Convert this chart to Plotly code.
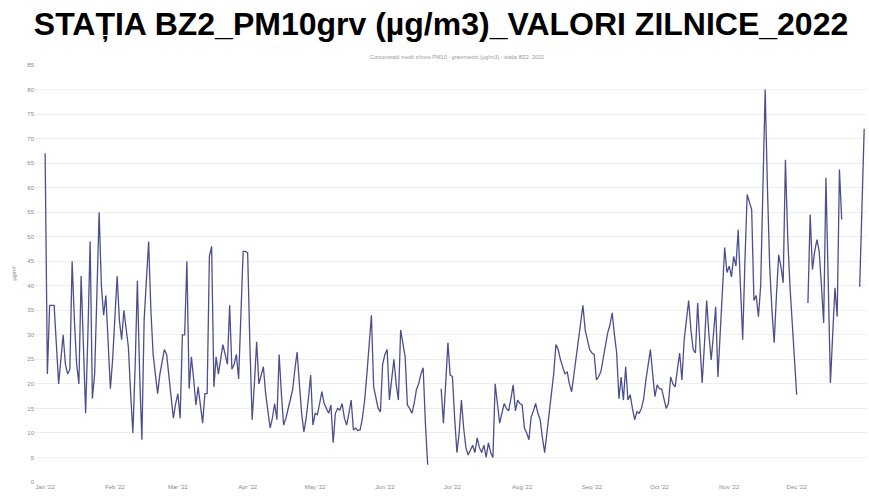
import pandas as pd
import plotly.graph_objects as go

N = None
# Daily PM10 gravimetric values (µg/m3), 1 Jan 2022 .. 31 Dec 2022
jan = [67, 22, 36, 36, 36, 28, 20, 25, 30, 24, 22, 23, 45, 33, 24, 20, 42, 28, 14, 30,
       49, 17, 22, 38, 55, 40, 34, 38, 27, 19, 25]
feb = [35, 42, 33, 29, 35, 31, 27.5, 18, 10, 23.5, 41, 22, 8.6, 33, 42, 49, 35, 26, 22, 18,
       22, 25, 27, 26, 22, 18, 13, 16]
mar = [18, 13, 30, 30, 45, 19, 25.5, 21, 15.7, 19.4, 16, 12, 18, 18, 46, 48, 19.4, 25.5, 22, 25,
       28, 26, 24, 36, 23, 24, 26, 21, 33, 47, 47]
apr = [46.7, 28, 12.7, 20, 28.6, 20, 22, 23.5, 18, 14, 11, 13, 16, 12.7, 26, 18, 11.6, 13, 15, 17,
       18.8, 23, 26.5, 20, 14, 10.2, 13, 17, 21.8, 11.6]
may = [14, 13.7, 16, 18.4, 16, 15, 14, 15.7, 8, 14, 15, 14.7, 16, 13, 11.6, 14, 16.7, 10.6, 11, 10.5,
       10.6, 13, 16.7, 22, 29, 34, 19.4, 17, 15, 14.3, 24]
jun = [26, 27, 16.7, 21, 25, 20, 16.7, 31, 28, 25.5, 15.7, 15, 14, 16, 18.8, 20, 22, 23.3, 12, 3.5,
       N, N, N, N, N, 19, 12, 20, 28.4, 21.8]
jul = [21.5, 13, 6, 10, 16.7, 11, 7, 5.5, 6.5, 7.5, 6, 9, 7, 6, 7.5, 5, 8, 6, 5, 20,
       16, 12, 14, 16, 15, 14.5, 17, 19.8, 14.5, 16.7, 16]
aug = [15.7, 11, 10, 8.6, 13.3, 14.5, 16, 14, 12.7, 9, 6, 10, 14, 17.4, 22, 28, 27, 25, 23.3, 22,
       22.5, 20, 18.4, 22, 26.3, 30, 33, 36, 31, 28.6, 27]
sep = [26.3, 26, 20.8, 21.5, 22.5, 25, 28, 30.4, 32, 34.5, 30, 26.3, 17, 21.4, 16.7, 23.5, 16.7, 17.8, 15, 12.7,
       14.3, 14, 15, 17, 20.8, 24, 27, 22, 17.4, 19.8]
oct_ = [19, 19, 17, 15, 16, 21.4, 20, 19.4, 23, 26.3, 20.8, 29, 33, 37, 31, 27, 26.3, 36.5, 28, 20.2,
        28, 37, 30, 24.9, 30, 35.7, 21.4, 30, 40, 47.8, 42.7]
nov = [44, 41.8, 46, 44, 51.4, 40, 29, 45, 58.6, 57, 55.5, 37, 38, 33.7, 40, 60, 80, 60, 44, 35,
       28.4, 38, 46.3, 43.9, 40.6, 65.7, 50, 40, 32.4, 25]
dec = [17.8, N, N, N, N, 36.5, 54.5, 43.3, 47, 49.4, 47, 40, 32.4, 62, 40, 20.2, 30, 39.6, 33.7, 63.7,
       53.5, N, N, N, N, N, N, N, 39.8, 55, 72]

values = jan + feb + mar + apr + may + jun + jul + aug + sep + oct_ + nov + dec
dates = pd.date_range("2022-01-01", periods=len(values), freq="D")

TITLE = "STAȚIA BZ2_PM10grv (µg/m3)_VALORI ZILNICE_2022"
SUBTITLE = "Concentrații medii zilnice PM10 - gravimetric (µg/m3) - stația BZ2, 2022"
Y_LABEL = "µg/m³"

FONT = "Liberation Sans, Arial"
TICK = dict(family=FONT, size=6, color="#8a8a8a")

fig = go.Figure()
fig.add_trace(go.Scatter(
    x=dates, y=values, mode="lines",
    line=dict(color="#4c4f8e", width=1.3),
    connectgaps=False, showlegend=False, hoverinfo="skip",
))

fig.update_layout(
    width=869, height=497,
    paper_bgcolor="white", plot_bgcolor="white",
    margin=dict(l=35, r=2, t=65, b=15, autoexpand=False),
    title=dict(text="<b>" + TITLE + "</b>", x=0.5075, xanchor="center", y=0.975, yanchor="top",
               font=dict(family=FONT, size=32, color="black")),
    annotations=[dict(text=SUBTITLE, x=0.507, xref="paper", y=1.008, yref="paper",
                      xanchor="center", yanchor="bottom", showarrow=False,
                      font=dict(family=FONT, size=5.5, color="#9a9a9a"))],
)
fig.update_xaxes(
    range=["2021-12-27 12:00", "2023-01-01 06:00"],
    tickformat="%b '%y", dtick="M1", tick0="2022-01-01",
    showgrid=False, showline=False, zeroline=False, automargin=False,
    tickfont=TICK,
)
fig.update_yaxes(
    range=[0, 85], dtick=5, automargin=False,
    showgrid=True, gridcolor="#eeeeee", gridwidth=1, zeroline=False,
    tickfont=TICK,
    title=dict(text=Y_LABEL, font=dict(family=FONT, size=5.5, color="#8a8a8a"), standoff=10),
)

fig.write_html("out.html", config={"displayModeBar": False},
               post_script="document.body.style.margin='0';")
